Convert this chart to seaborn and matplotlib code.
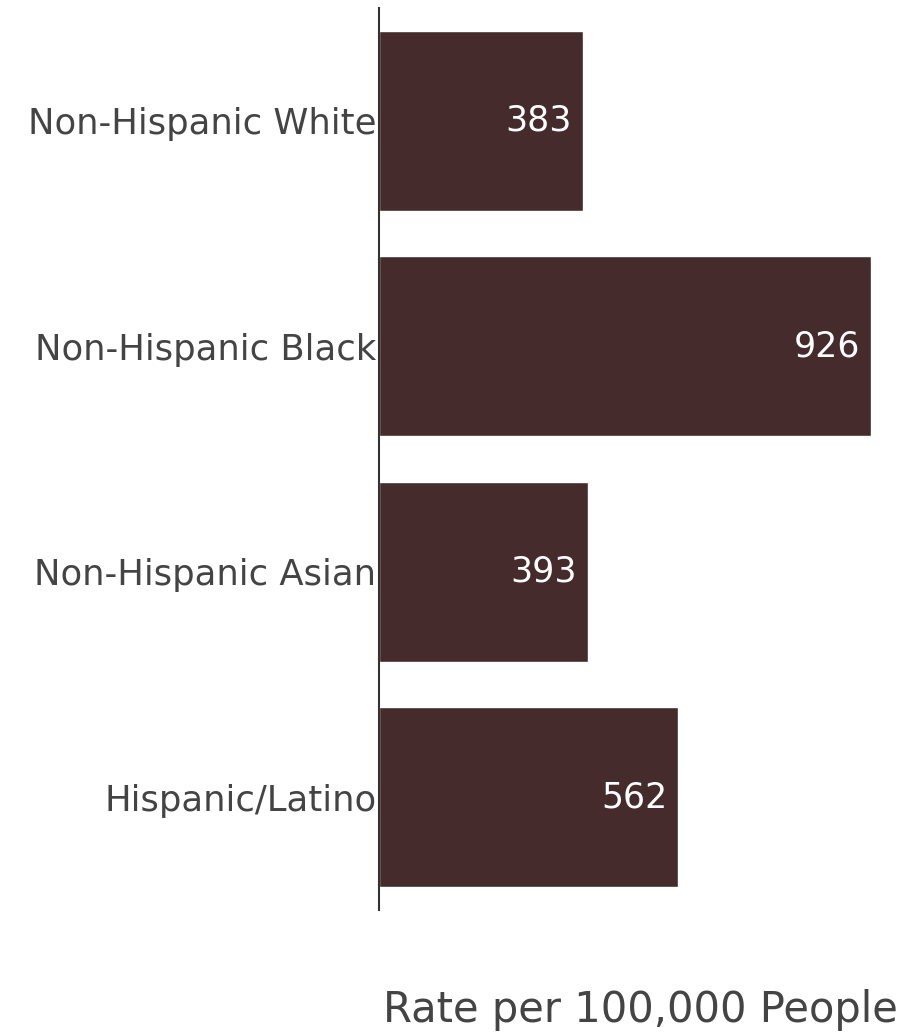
import matplotlib
matplotlib.use("Agg")
import matplotlib.pyplot as plt
import seaborn as sns
import pandas as pd

groups = ["Non-Hispanic White", "Non-Hispanic Black", "Non-Hispanic Asian", "Hispanic/Latino"]
rates = [383, 926, 393, 562]
bar_color = "#452b2b"

df = pd.DataFrame({"group": groups, "rate": rates})

sns.set_style("white")
plt.rcParams["font.family"] = ["DejaVu Sans"]

fig = plt.figure(figsize=(9.13, 10.36), dpi=100)
ax = fig.add_axes([379 / 913, 1 - 910 / 1036, (900 - 379) / 913, (910 - 8) / 1036])

sns.barplot(data=df, x="rate", y="group", color=bar_color, width=0.8, saturation=1, ax=ax)

for i, v in enumerate(rates):
    ax.text(v - 20, i, str(v), color="white", ha="right", va="center", fontsize=25)

ax.set_xlim(0, 980)
ax.set_ylim(3.5, -0.5)
ax.set_ylabel("")
ax.set_xlabel("")
ax.set_xticks([])
ax.tick_params(axis="y", labelsize=25.5, colors="#444444", length=0, pad=2)
for s in ["top", "right", "bottom"]:
    ax.spines[s].set_visible(False)
ax.spines["left"].set_color("#333333")
ax.spines["left"].set_linewidth(1.5)

fig.text(898 / 913, 1 - 1010 / 1036, "Rate per 100,000 People", ha="right", va="center",
         fontsize=30, color="#444444")

fig.savefig("out.png", dpi=100)
